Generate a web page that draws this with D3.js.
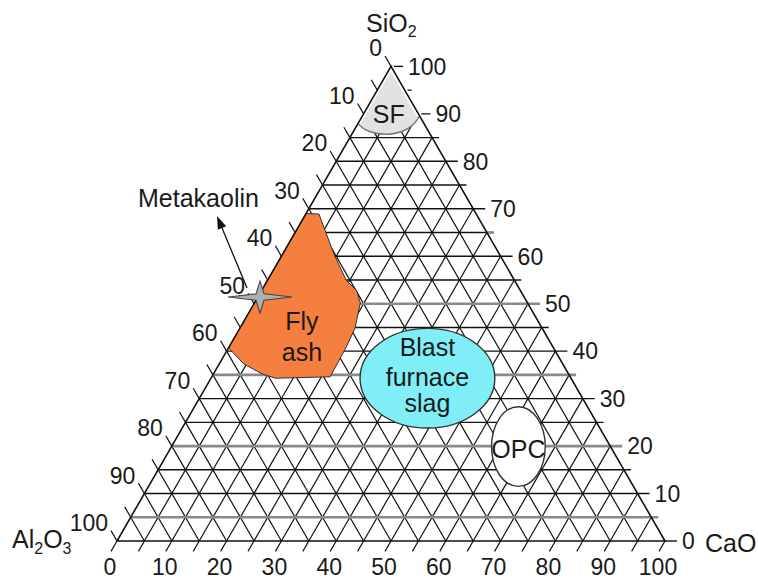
<!DOCTYPE html>
<html>
<head>
<meta charset="utf-8">
<script src="https://cdn.jsdelivr.net/npm/d3@7"></script>
<style>
  html, body { margin: 0; padding: 0; background: #fff; }
  svg { display: block; font-family: "Liberation Sans", Arial, Helvetica, sans-serif; }
</style>
</head>
<body>
<svg id="chart" width="758" height="581"></svg>
<script>
// ---- Data -------------------------------------------------------------
// Axis tick labels (mass %)
const tickLabels = [0, 10, 20, 30, 40, 50, 60, 70, 80, 90, 100];
// Grid lines every 5 %
const gridLevels = [0, 5, 10, 15, 20, 25, 30, 35, 40, 45, 50, 55, 60, 65, 70, 75, 80, 85, 90, 95, 100];
// Horizontal (SiO2) levels drawn as heavier grey rules
const greyLevels = [5, 20, 35, 50];

// Regions, as [SiO2, CaO] pairs (Al2O3 is the remainder)
const flyAsh = [
  [69.0, 0.0], [68.9, 2.4], [60.3, 9.5], [55.0, 14.3], [52.7, 17.4], [50.2, 19.3],
  [44.9, 21.0], [40.9, 21.4], [34.6, 21.6], [34.3, 11.8], [35.2, 8.9], [37.3, 4.5], [40.7, 0.0]
];
// Silica fume: corner cap bounded by a curved lower edge
const silicaFumeApex = [100, 0];
const silicaFumeLeft = [88.0, 0.0];
const silicaFumeCtrl = [[84.9, 3.4], [84.5, 10.9]];
const silicaFumeRight = [89.6, 10.4];
// Ellipses: centre [SiO2, CaO], half-widths in CaO units and half-heights in SiO2 units
const slag = { centre: [34.3, 39.5], rCaO: 12.3, rSiO2: 10.5 };
const opc = { centre: [19.9, 63.3], rCaO: 4.9, rSiO2: 8.4 };
// Metakaolin composition point
const metakaolin = [51.4, 0.4];

// ---- Scales -------------------------------------------------------------
const x = d3.scaleLinear().domain([0, 100]).range([117, 665]);
const y = d3.scaleLinear().domain([0, 100]).range([541, 66.4]);
// ternary [SiO2, CaO] -> screen
const P = ([s, c]) => [x(c + s / 2), y(s)];

const svg = d3.select("#chart");
const INK = "#111";
const NUM_FONT = 23, NAME_FONT = 25;

// ---- Grid ---------------------------------------------------------------
const grid = svg.append("g").attr("stroke-linecap", "butt");
const inner = gridLevels.filter(v => v > 0 && v < 100);

// constant Al2O3 ("\" lines): left edge -> base
inner.forEach(a => {
  const p1 = P([100 - a, 0]), p2 = P([0, 100 - a]);
  grid.append("line").attr("x1", p1[0]).attr("y1", p1[1]).attr("x2", p2[0]).attr("y2", p2[1])
    .attr("stroke", INK).attr("stroke-width", 1.2);
});
// constant CaO ("/" lines): base -> right edge
inner.forEach(c => {
  const p1 = P([0, c]), p2 = P([100 - c, c]);
  grid.append("line").attr("x1", p1[0]).attr("y1", p1[1]).attr("x2", p2[0]).attr("y2", p2[1])
    .attr("stroke", INK).attr("stroke-width", 1.2);
});
// constant SiO2 (horizontal), running past the right edge as ticks
gridLevels.forEach(s => {
  const p1 = P([s, 0]), p2 = P([s, 100 - s]);
  const ext = s % 10 === 0 ? 12 : 7;
  const grey = greyLevels.includes(s);
  if (s === 0 || s === 100) {
    grid.append("line").attr("x1", p2[0]).attr("y1", p2[1]).attr("x2", p2[0] + ext).attr("y2", p2[1])
      .attr("stroke", INK).attr("stroke-width", 1.4);
    return;
  }
  grid.append("line").attr("x1", p1[0]).attr("y1", p1[1]).attr("x2", p2[0] + ext).attr("y2", p2[1])
    .attr("stroke", grey ? "#8a8a8a" : INK).attr("stroke-width", grey ? 2.6 : 1.4);
  if (s === 65) {
    grid.append("line").attr("x1", p2[0]).attr("y1", p2[1]).attr("x2", p2[0] + ext).attr("y2", p2[1])
      .attr("stroke", "#8a8a8a").attr("stroke-width", 2.4);
  }
});

// ---- Regions ------------------------------------------------------------
const regions = svg.append("g");

regions.append("path")
  .attr("d", d3.line()(flyAsh.map(P)) + "Z")
  .attr("fill", "#f57f3e").attr("stroke", "#333").attr("stroke-width", 1);

const sf = d3.path();
const sfA = P(silicaFumeApex), sfL = P(silicaFumeLeft), sfR = P(silicaFumeRight);
const sfC1 = P(silicaFumeCtrl[0]), sfC2 = P(silicaFumeCtrl[1]);
sf.moveTo(...sfA); sf.lineTo(...sfL);
sf.bezierCurveTo(sfC1[0], sfC1[1], sfC2[0], sfC2[1], sfR[0], sfR[1]);
sf.closePath();
regions.append("path").attr("d", sf.toString()).attr("fill", "#e2e2e2").attr("stroke", "none");
const sfCurve = d3.path();
sfCurve.moveTo(...sfL);
sfCurve.bezierCurveTo(sfC1[0], sfC1[1], sfC2[0], sfC2[1], sfR[0], sfR[1]);
regions.append("path").attr("d", sfCurve.toString()).attr("fill", "none")
  .attr("stroke", "#7a7a7a").attr("stroke-width", 1.5);
// thin white margin where the cap meets the sides
[[sfA, sfL], [sfA, sfR]].forEach(([a, b]) => {
  regions.append("line").attr("x1", a[0]).attr("y1", a[1]).attr("x2", b[0]).attr("y2", b[1])
    .attr("stroke", "#fff").attr("stroke-width", 5);
});

function drawEllipse(e, fill) {
  const c = P(e.centre);
  regions.append("ellipse")
    .attr("cx", c[0]).attr("cy", c[1])
    .attr("rx", x(e.rCaO) - x(0)).attr("ry", y(0) - y(e.rSiO2))
    .attr("fill", fill).attr("stroke", "#333").attr("stroke-width", 1.4);
}
drawEllipse(slag, "#80eef6");
drawEllipse(opc, "#ffffff");

// ---- Triangle frame and ticks -------------------------------------------
const frame = svg.append("g");
const apexPt = P([100, 0]), blPt = P([0, 0]), brPt = P([0, 100]);
frame.append("path").attr("d", d3.line()([apexPt, blPt, brPt]) + "Z")
  .attr("fill", "none").attr("stroke", INK).attr("stroke-width", 1.6);

const TICK = 12;
const upLeft = [-0.5, -0.866], downLeft = [-0.5, 0.866];
gridLevels.forEach(v => {
  // Al2O3 ticks on the left edge
  const a = P([100 - v, 0]);
  frame.append("line").attr("x1", a[0]).attr("y1", a[1])
    .attr("x2", a[0] + upLeft[0] * TICK).attr("y2", a[1] + upLeft[1] * TICK)
    .attr("stroke", INK).attr("stroke-width", 1.2);
  // CaO ticks under the base
  const b = P([0, v]);
  frame.append("line").attr("x1", b[0]).attr("y1", b[1])
    .attr("x2", b[0] + downLeft[0] * TICK).attr("y2", b[1] + downLeft[1] * TICK)
    .attr("stroke", INK).attr("stroke-width", 1.2);
});

// ---- Tick labels --------------------------------------------------------
const labels = svg.append("g").attr("fill", "#1a1a1a").attr("font-size", NUM_FONT);
tickLabels.forEach(v => {
  // SiO2 (right side)
  const r = P([v, 100 - v]);
  labels.append("text").attr("x", r[0] + 17).attr("y", r[1]).attr("dy", "0.36em")
    .attr("text-anchor", "start").text(v);
  // Al2O3 (left side)
  const l = P([100 - v, 0]);
  labels.append("text").attr("x", l[0] - 9).attr("y", l[1] - 10)
    .attr("text-anchor", "end").text(v);
  // CaO (base)
  const b = P([0, v]);
  labels.append("text").attr("x", b[0] - 7).attr("y", 575)
    .attr("text-anchor", "middle").text(v);
});

// ---- Axis names ---------------------------------------------------------
const names = svg.append("g").attr("fill", "#1a1a1a").attr("font-size", NAME_FONT);
const si = names.append("text").attr("x", apexPt[0] - 25).attr("y", apexPt[1] - 34);
si.append("tspan").text("SiO");
si.append("tspan").attr("font-size", 16).attr("dy", 5).text("2");
const al = names.append("text").attr("x", blPt[0] - 105).attr("y", blPt[1] + 7);
al.append("tspan").text("Al");
al.append("tspan").attr("font-size", 16).attr("dy", 6).text("2");
al.append("tspan").attr("dy", -6).text("O");
al.append("tspan").attr("font-size", 16).attr("dy", 6).text("3");
names.append("text").attr("x", brPt[0] + 40).attr("y", brPt[1] + 11).text("CaO");

// ---- Metakaolin marker and pointer --------------------------------------
const mk = P(metakaolin);
const arrowFrom = [mk[0] - 13, mk[1] - 9], arrowTo = [mk[0] - 43, mk[1] - 81];
const ang = Math.atan2(arrowTo[1] - arrowFrom[1], arrowTo[0] - arrowFrom[0]);
const headLen = 13, headHalf = 4.5;
const hb = [arrowTo[0] - headLen * Math.cos(ang), arrowTo[1] - headLen * Math.sin(ang)];
svg.append("line").attr("x1", arrowFrom[0]).attr("y1", arrowFrom[1]).attr("x2", hb[0]).attr("y2", hb[1])
  .attr("stroke", INK).attr("stroke-width", 1.3);
svg.append("path").attr("d", d3.line()([
  arrowTo,
  [hb[0] + headHalf * Math.sin(ang), hb[1] - headHalf * Math.cos(ang)],
  [hb[0] - headHalf * Math.sin(ang), hb[1] + headHalf * Math.cos(ang)]
]) + "Z").attr("fill", INK);

const sx = 32, sy = 16, sIn = 4;
const star = [
  [mk[0] + sx, mk[1]], [mk[0] + sIn, mk[1] + sIn * 0.8], [mk[0], mk[1] + sy], [mk[0] - sIn, mk[1] + sIn * 0.8],
  [mk[0] - sx, mk[1]], [mk[0] - sIn, mk[1] - sIn * 0.8], [mk[0], mk[1] - sy], [mk[0] + sIn, mk[1] - sIn * 0.8]
];
svg.append("path").attr("d", d3.line()(star) + "Z")
  .attr("fill", "#adb0b5").attr("stroke", "#444").attr("stroke-width", 1.1);

names.append("text").attr("x", arrowTo[0] - 79).attr("y", arrowTo[1] - 9).text("Metakaolin");

// ---- Region labels ------------------------------------------------------
function regionLabel(at, lines, offsets) {
  const p = P(at);
  lines.forEach((t, i) => {
    names.append("text").attr("x", p[0]).attr("y", p[1] + offsets[i])
      .attr("text-anchor", "middle").text(t);
  });
}
regionLabel([90.2, 4.5], ["SF"], [10]);
regionLabel([41.1, 13.2], ["Fly", "ash"], [-16, 15]);
regionLabel(slag.centre, ["Blast", "furnace", "slag"], [-22, 8, 34]);
regionLabel(opc.centre, ["OPC"], [11]);
</script>
</body>
</html>
